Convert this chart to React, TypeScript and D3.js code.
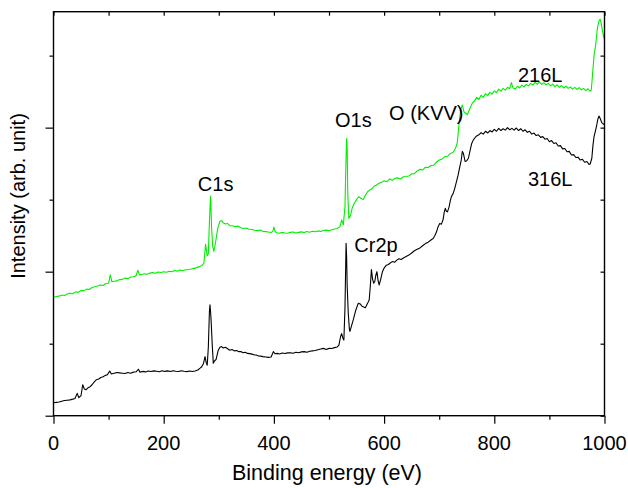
import * as d3 from 'd3';
import React, { useEffect, useRef } from 'react';

// spectra: [binding energy (eV), intensity (arb.)]
const s216L: [number, number][] = [
  [0,1.64],[5,1.655],[10,1.66],[15,1.675],[20,1.668],[25,1.69],[30,1.70],[35,1.694],[40,1.72],[45,1.712],
  [50,1.74],[55,1.733],[60,1.758],[65,1.752],[70,1.78],[75,1.79],[80,1.80],[85,1.816],[90,1.808],[95,1.835],
  [100,1.84],[103,1.955],[106,1.86],[110,1.866],[115,1.872],[120,1.89],[125,1.893],[130,1.912],[135,1.903],[140,1.925],
  [145,1.93],[150,1.945],[153,2.02],[156,1.955],[160,1.962],[165,1.972],[170,1.963],[175,1.98],[180,1.987],[185,1.978],
  [190,1.996],[195,1.988],[200,2.0],[205,1.993],[210,2.006],[215,1.998],[220,2.016],[225,2.008],[230,2.022],[235,2.013],
  [240,2.026],[245,2.03],[250,2.036],[255,2.046],[260,2.056],[265,2.07],[270,2.09],[273,2.12],[276,2.38],[279,2.22],
  [281,2.25],[283,2.7],[285,3.05],[287,2.6],[289,2.35],[291,2.28],[294,2.4],[298,2.6],[302,2.70],[305,2.71],
  [308,2.68],[312,2.662],[316,2.668],[320,2.64],[325,2.637],[330,2.625],[335,2.632],[340,2.61],[345,2.60],[350,2.607],
  [355,2.59],[360,2.586],[365,2.575],[370,2.57],[375,2.577],[380,2.56],[385,2.556],[390,2.55],[395,2.545],[398,2.56],
  [400,2.62],[402,2.56],[405,2.54],[410,2.534],[415,2.546],[420,2.538],[425,2.533],[430,2.546],[435,2.552],[440,2.538],
  [445,2.546],[450,2.553],[455,2.543],[460,2.557],[465,2.548],[470,2.562],[475,2.554],[480,2.566],[485,2.558],[490,2.572],
  [495,2.577],[500,2.568],[505,2.582],[510,2.592],[515,2.60],[520,2.625],[523,2.72],[526,2.65],[529,2.9],[531,3.6],
  [532,3.85],[533,3.7],[534,3.1],[536,2.74],[539,2.78],[542,2.88],[546,2.95],[550,3.0],[554,3.04],[558,3.02],
  [562,3.0],[566,3.06],[570,3.11],[574,3.135],[578,3.15],[582,3.19],[586,3.2],[590,3.225],[595,3.24],[600,3.262],
  [605,3.248],[610,3.288],[615,3.268],[620,3.298],[625,3.302],[630,3.287],[635,3.318],[640,3.322],[645,3.328],[650,3.358],
  [655,3.362],[660,3.398],[665,3.42],[670,3.414],[675,3.45],[680,3.446],[685,3.474],[690,3.478],[695,3.52],[700,3.55],
  [705,3.562],[710,3.598],[715,3.602],[720,3.64],[725,3.655],[730,3.72],[733,3.8],[736,4.05],[739,4.25],[742,4.315],
  [745,4.22],[748,4.2],[751,4.18],[756,4.27],[760,4.34],[764,4.37],[768,4.42],[772,4.39],[776,4.45],[780,4.42],
  [784,4.47],[788,4.445],[792,4.49],[796,4.465],[800,4.51],[804,4.485],[808,4.535],[812,4.505],[816,4.545],[820,4.52],
  [824,4.56],[828,4.54],[831,4.625],[834,4.55],[838,4.535],[842,4.575],[846,4.55],[850,4.59],[854,4.565],[858,4.60],
  [862,4.58],[866,4.615],[870,4.59],[874,4.63],[878,4.6],[882,4.635],[886,4.6],[890,4.625],[894,4.595],[898,4.615],
  [902,4.58],[906,4.605],[910,4.57],[914,4.595],[918,4.56],[922,4.585],[926,4.55],[930,4.575],[934,4.545],[938,4.565],
  [942,4.535],[946,4.56],[950,4.53],[954,4.555],[958,4.525],[962,4.545],[966,4.515],[970,4.54],[974,4.505],[976,4.52],
  [978,4.71],[981,5.0],[984,5.15],[987,5.38],[990,5.48],[992,5.505],[994,5.45],[996,5.36],[998,5.28],[1000,5.22]
];

const s316L: [number, number][] = [
  [0,0.18],[5,0.185],[10,0.19],[15,0.2],[20,0.21],[25,0.215],[30,0.22],[35,0.23],[39,0.24],[43,0.31],
  [46,0.25],[50,0.28],[53,0.43],[56,0.37],[59,0.36],[63,0.39],[66,0.40],[70,0.43],[74,0.47],[78,0.50],
  [82,0.51],[86,0.53],[90,0.54],[94,0.56],[98,0.57],[102,0.62],[105,0.58],[110,0.59],[115,0.60],[120,0.595],
  [125,0.59],[130,0.585],[135,0.6],[140,0.59],[145,0.605],[150,0.61],[154,0.645],[157,0.605],[162,0.615],[167,0.608],
  [172,0.62],[177,0.613],[182,0.622],[187,0.618],[192,0.61],[197,0.625],[202,0.615],[207,0.622],[212,0.613],[217,0.625],
  [222,0.618],[227,0.613],[232,0.625],[237,0.618],[242,0.612],[247,0.62],[252,0.614],[257,0.62],[262,0.635],[266,0.66],
  [269,0.68],[272,0.72],[275,0.82],[277,0.74],[279,0.70],[281,0.95],[283,1.45],[284,1.54],[285,1.45],[286,1.33],
  [288,1.0],[290,0.73],[292,0.76],[295,0.78],[299,0.91],[302,0.95],[305,0.96],[308,0.94],[312,0.95],[316,0.93],
  [320,0.91],[324,0.92],[328,0.90],[332,0.905],[336,0.89],[340,0.892],[344,0.875],[348,0.88],[352,0.865],[356,0.862],
  [360,0.855],[364,0.845],[368,0.842],[372,0.83],[376,0.827],[380,0.82],[385,0.815],[390,0.81],[395,0.815],[399,0.89],
  [402,0.86],[406,0.865],[410,0.858],[415,0.87],[420,0.863],[425,0.872],[430,0.875],[435,0.868],[440,0.882],[445,0.874],
  [450,0.886],[455,0.89],[460,0.88],[465,0.895],[470,0.9],[475,0.905],[480,0.915],[485,0.925],[490,0.935],[495,0.92],
  [500,0.935],[505,0.933],[510,0.945],[515,0.955],[518,0.98],[521,1.1],[523,1.14],[525,1.08],[527,1.05],[529,1.5],
  [531,2.395],[532,2.2],[533,1.8],[535,1.42],[537,1.2],[538,1.17],[541,1.25],[544,1.33],[548,1.45],[553,1.56],
  [557,1.55],[560,1.52],[563,1.51],[566,1.5],[570,1.56],[573,1.61],[575,1.8],[577,2.03],[579,1.9],[581,1.84],
  [583,1.86],[585,1.95],[587,2.0],[589,1.88],[591,1.815],[594,1.9],[597,2.0],[600,2.05],[604,2.09],[608,2.1],
  [611,2.12],[615,2.14],[619,2.13],[623,2.16],[627,2.18],[631,2.17],[635,2.19],[640,2.21],[645,2.23],[650,2.26],
  [655,2.29],[660,2.31],[665,2.33],[670,2.36],[675,2.39],[680,2.41],[685,2.44],[689,2.46],[692,2.5],[695,2.55],
  [698,2.625],[701,2.67],[704,2.66],[707,2.72],[709,2.82],[711,2.88],[713,2.84],[715,2.83],[718,2.9],[720,2.98],
  [722,3.04],[725,3.08],[728,3.15],[731,3.24],[734,3.33],[737,3.44],[740,3.55],[742,3.67],[744,3.64],[747,3.53],
  [750,3.54],[753,3.575],[756,3.68],[759,3.78],[762,3.83],[765,3.86],[768,3.885],[772,3.9],[776,3.93],[780,3.91],
  [784,3.95],[788,3.925],[792,3.96],[796,3.94],[800,3.975],[804,3.95],[808,3.99],[812,3.96],[816,3.985],[820,3.965],
  [824,4.0],[828,3.97],[832,3.99],[836,3.965],[840,3.995],[844,3.96],[848,3.985],[852,3.95],[856,3.97],[860,3.935],
  [864,3.95],[868,3.91],[872,3.925],[876,3.89],[880,3.9],[884,3.865],[888,3.875],[892,3.84],[896,3.85],[900,3.805],
  [904,3.82],[908,3.78],[912,3.79],[916,3.745],[920,3.75],[924,3.705],[928,3.71],[932,3.665],[936,3.67],[940,3.62],
  [944,3.625],[948,3.585],[952,3.59],[956,3.55],[960,3.56],[964,3.52],[968,3.53],[972,3.49],[974,3.495],[977,3.575],
  [979,3.75],[981,3.875],[984,3.97],[986,4.04],[988,4.12],[990,4.16],[992,4.13],[995,4.07],[998,4.05],[1000,4.04]
];

const xMajor = [0, 200, 400, 600, 800, 1000];
const xMinor = [100, 300, 500, 700, 900];
const xAll = [0, 100, 200, 300, 400, 500, 600, 700, 800, 900, 1000];
const yMajor = [0, 2, 4];
const yMinor = [1, 3, 5];

const labels: { text: string; e: number; v: number }[] = [
  { text: 'C1s', e: 262, v: 3.12 },
  { text: 'O1s', e: 511, v: 4.01 },
  { text: 'O (KVV)', e: 609, v: 4.11 },
  { text: 'Cr2p', e: 546, v: 2.28 },
  { text: '216L', e: 843, v: 4.63 },
  { text: '316L', e: 861, v: 3.19 },
];

const W = 628, H = 488;
const FONT = '"Liberation Sans", Arial, sans-serif';

const App = () => {
  const ref = useRef<SVGSVGElement>(null);

  useEffect(() => {
    const svg = d3.select(ref.current);
    svg.selectAll('*').remove();

    const x = d3.scaleLinear().domain([0, 1000]).range([53.5, 604.5]);
    const y = d3.scaleLinear().domain([0, 5.61]).range([415.7, 11.7]);

    const line = d3.line<[number, number]>().x(d => x(d[0])).y(d => y(d[1]));

    svg.append('path').datum(s216L).attr('d', line).attr('fill', 'none')
      .attr('stroke', '#00ee00').attr('stroke-width', 1.1).attr('stroke-linejoin', 'round');
    svg.append('path').datum(s316L).attr('d', line).attr('fill', 'none')
      .attr('stroke', '#000').attr('stroke-width', 1.1).attr('stroke-linejoin', 'round');

    const axis = (gen: any, tx: number, ty: number) => {
      const g = svg.append('g').attr('transform', `translate(${tx},${ty})`).call(gen);
      g.select('.domain').remove();
      g.selectAll('text').remove();
      g.selectAll('line').attr('stroke', '#000').attr('stroke-width', 1.2);
    };
    axis(d3.axisBottom(x).tickValues(xMajor).tickSize(8), 0, y(0));
    axis(d3.axisBottom(x).tickValues(xMinor).tickSize(4), 0, y(0));
    axis(d3.axisTop(x).tickValues(xAll).tickSize(-4), 0, y(5.61));
    axis(d3.axisLeft(y).tickValues(yMajor).tickSize(8), x(0), 0);
    axis(d3.axisLeft(y).tickValues(yMinor).tickSize(4), x(0), 0);
    axis(d3.axisRight(y).tickValues([...yMajor, ...yMinor]).tickSize(-4), x(1000), 0);

    svg.append('rect').attr('x', x(0)).attr('y', y(5.61))
      .attr('width', x(1000) - x(0)).attr('height', y(0) - y(5.61))
      .attr('fill', 'none').attr('stroke', '#000').attr('stroke-width', 1.4);

    svg.selectAll('text.tick').data(xMajor).enter().append('text')
      .attr('x', d => x(d)).attr('y', 450).attr('text-anchor', 'middle')
      .attr('font-family', FONT).attr('font-size', 20).text(d => d);

    svg.append('text').attr('x', 327).attr('y', 480).attr('text-anchor', 'middle')
      .attr('font-family', FONT).attr('font-size', 21.5).text('Binding energy (eV)');

    svg.append('text').attr('transform', 'translate(25,196) rotate(-90)').attr('text-anchor', 'middle')
      .attr('font-family', FONT).attr('font-size', 20).text('Intensity (arb. unit)');

    svg.selectAll('text.lbl').data(labels).enter().append('text')
      .attr('x', d => x(d.e)).attr('y', d => y(d.v))
      .attr('font-family', FONT).attr('font-size', 20).attr('fill', '#000').text(d => d.text);
  });

  return (
    <svg ref={ref} width={W} height={H}
      style={{ position: 'absolute', left: 0, top: 0, background: '#fff' }} />
  );
};

export default App;
